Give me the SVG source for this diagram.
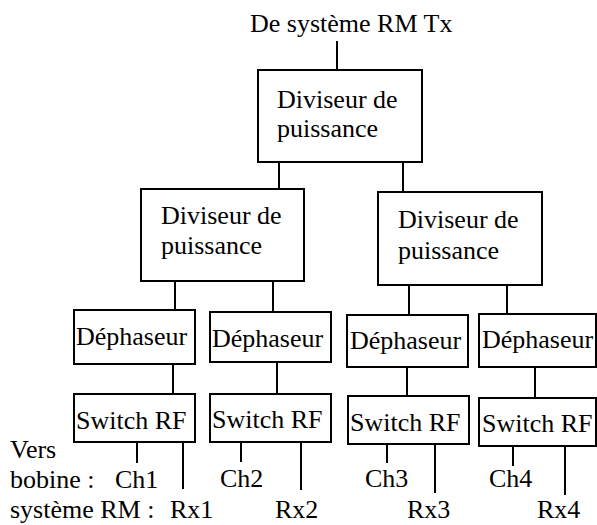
<svg xmlns="http://www.w3.org/2000/svg" width="597" height="525" viewBox="0 0 597 525">
<style>
text{font-family:"Liberation Serif","Times New Roman",serif;font-size:26px;fill:#000}
.b{fill:#fff;stroke:#000;stroke-width:2}
#connectors line{stroke:#000;stroke-width:2}
</style>
<rect width="597" height="525" fill="#fff"/>
<g id="connectors">
<line x1="337" y1="41" x2="337" y2="70"/>
<line x1="279" y1="160" x2="279" y2="189"/>
<line x1="403" y1="162" x2="403" y2="192"/>
<line x1="175" y1="281" x2="175" y2="310"/>
<line x1="273" y1="281" x2="273" y2="312"/>
<line x1="409" y1="285" x2="409" y2="315"/>
<line x1="507" y1="285" x2="507" y2="314"/>
<line x1="173" y1="364" x2="173" y2="394"/>
<line x1="277" y1="362" x2="277" y2="394"/>
<line x1="407" y1="365" x2="407" y2="396"/>
<line x1="535" y1="367" x2="535" y2="398"/>
<line x1="137" y1="442" x2="137" y2="463"/>
<line x1="183" y1="442" x2="183" y2="489"/>
<line x1="241" y1="442" x2="241" y2="462"/>
<line x1="301" y1="442" x2="301" y2="490"/>
<line x1="387" y1="444" x2="387" y2="463"/>
<line x1="435" y1="444" x2="435" y2="493"/>
<line x1="513" y1="446" x2="513" y2="466"/>
<line x1="565" y1="446" x2="565" y2="495"/>
</g>
<g id="title"><text x="250" y="32">De système RM Tx</text></g>
<g id="div_top"><rect class="b" x="258" y="70" width="164" height="92"/><text x="277" y="108">Diviseur de</text><text x="277" y="137">puissance</text></g>
<g id="div_left"><rect class="b" x="141" y="189" width="163" height="92"/><text x="161" y="224">Diviseur de</text><text x="161" y="254">puissance</text></g>
<g id="div_right"><rect class="b" x="378" y="192" width="164" height="93"/><text x="398" y="228">Diviseur de</text><text x="398" y="259">puissance</text></g>
<g id="deph1"><rect class="b" x="74" y="310" width="121" height="54"/><text x="76" y="345">Déphaseur</text></g>
<g id="deph2"><rect class="b" x="210" y="312" width="121" height="50"/><text x="212" y="347">Déphaseur</text></g>
<g id="deph3"><rect class="b" x="347" y="315" width="121" height="52"/><text x="350" y="349">Déphaseur</text></g>
<g id="deph4"><rect class="b" x="479" y="314" width="117" height="53"/><text x="482" y="348">Déphaseur</text></g>
<g id="sw1"><rect class="b" x="74" y="394" width="121" height="48"/><text x="76" y="429">Switch RF</text></g>
<g id="sw2"><rect class="b" x="210" y="394" width="121" height="48"/><text x="212" y="428">Switch RF</text></g>
<g id="sw3"><rect class="b" x="348" y="396" width="121" height="48"/><text x="350" y="431">Switch RF</text></g>
<g id="sw4"><rect class="b" x="479" y="398" width="117" height="48"/><text x="482" y="432">Switch RF</text></g>
<g id="labels">
<text x="10" y="458">Vers</text>
<text x="10" y="488">bobine :</text>
<text x="10" y="518">système RM :</text>
<text x="115" y="488">Ch1</text>
<text x="220" y="487">Ch2</text>
<text x="365" y="487">Ch3</text>
<text x="489" y="487">Ch4</text>
<text x="170" y="518">Rx1</text>
<text x="275" y="518">Rx2</text>
<text x="407" y="518">Rx3</text>
<text x="537" y="518">Rx4</text>
</g>
</svg>
